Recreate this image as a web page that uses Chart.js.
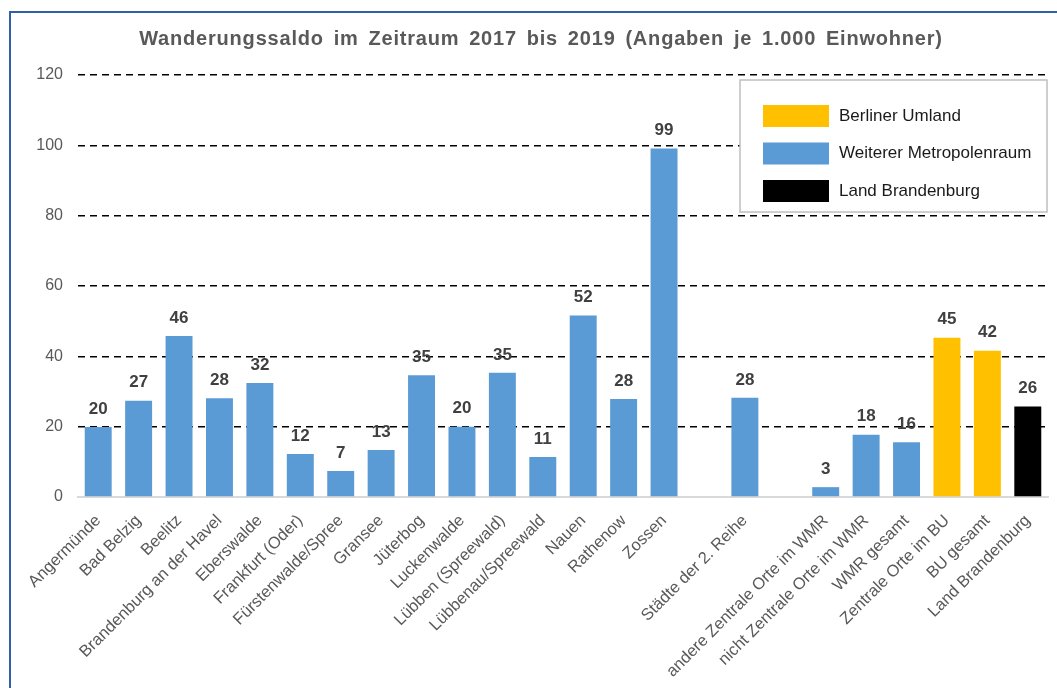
<!DOCTYPE html>
<html>
<head>
<meta charset="utf-8">
<script src="https://cdn.jsdelivr.net/npm/chart.js@4/dist/chart.umd.min.js"></script>
<style>
  html, body { margin: 0; padding: 0; background: #fff; }
  #wrap { position: relative; width: 1057px; height: 688px; }
</style>
</head>
<body>
<div id="wrap"><canvas id="c" width="1057" height="688"></canvas></div>
<script>
const titleText = 'Wanderungssaldo im Zeitraum 2017 bis 2019 (Angaben je 1.000 Einwohner)';
const categories = ['Angermünde', 'Bad Belzig', 'Beelitz', 'Brandenburg an der Havel', 'Eberswalde',
  'Frankfurt (Oder)', 'Fürstenwalde/Spree', 'Gransee', 'Jüterbog', 'Luckenwalde',
  'Lübben (Spreewald)', 'Lübbenau/Spreewald', 'Nauen', 'Rathenow', 'Zossen', '',
  'Städte der 2. Reihe', '', 'andere Zentrale Orte im WMR', 'nicht Zentrale Orte im WMR',
  'WMR gesamt', 'Zentrale Orte im BU', 'BU gesamt', 'Land Brandenburg'];
const values = [19.9, 27.4, 45.8, 28.1, 32.4, 12.2, 7.4, 13.4, 34.6, 20.0, 35.3, 11.4, 51.6, 27.9, 99.1, null,
  28.2, null, 2.8, 17.7, 15.6, 45.3, 41.6, 25.7];
const groups = ['WMR','WMR','WMR','WMR','WMR','WMR','WMR','WMR','WMR','WMR','WMR','WMR','WMR','WMR','WMR', null,
  'WMR', null, 'WMR','WMR','WMR','BU','BU','LAND'];
const legendLabels = ['Berliner Umland', 'Weiterer Metropolenraum', 'Land Brandenburg'];
const legendKeys = ['BU', 'WMR', 'LAND'];
const yTicks = [0, 20, 40, 60, 80, 100, 120];

const groupColors = { BU: '#ffc000', WMR: '#5b9bd5', LAND: '#000000' };

const decorPlugin = {
  id: 'decor',
  beforeDraw(chart) {
    const ctx = chart.ctx;
    ctx.save();
    ctx.fillStyle = '#ffffff';
    ctx.fillRect(0, 0, chart.width, chart.height);
    ctx.strokeStyle = '#2e62a6';
    ctx.lineWidth = 2;
    ctx.strokeRect(10, 12, 1200, 1000);
    ctx.restore();
  },
  afterDraw(chart) {
    const ctx = chart.ctx;
    ctx.save();
    // title
    ctx.fillStyle = '#595959';
    ctx.font = 'bold 20px "Liberation Sans", Arial, sans-serif';
    ctx.textAlign = 'left';
    ctx.textBaseline = 'middle';
    try { ctx.letterSpacing = '0.8px'; ctx.wordSpacing = '3.5px'; } catch (e) {}
    const tw = ctx.measureText(titleText).width;
    ctx.fillText(titleText, 541 - tw / 2, 39);
    try { ctx.letterSpacing = '0px'; ctx.wordSpacing = '0px'; } catch (e) {}
    // data labels
    const meta = chart.getDatasetMeta(0);
    ctx.textAlign = 'center';
    ctx.fillStyle = '#404040';
    ctx.font = 'bold 17px "Liberation Sans", Arial, sans-serif';
    meta.data.forEach((el, i) => {
      const v = values[i];
      if (v === null || v === undefined) return;
      ctx.fillText(String(Math.round(v)), el.x, el.y - 18);
    });
    // legend
    const lx = 740, ly = 80, lw = 307, lh = 132;
    ctx.fillStyle = '#ffffff';
    ctx.fillRect(lx, ly, lw, lh);
    ctx.strokeStyle = '#bfbfbf';
    ctx.lineWidth = 1.5;
    ctx.strokeRect(lx, ly, lw, lh);
    ctx.font = '17px "Liberation Sans", Arial, sans-serif';
    ctx.textAlign = 'left';
    legendLabels.forEach((lab, i) => {
      const yy = 105 + i * 37.5;
      ctx.fillStyle = groupColors[legendKeys[i]];
      ctx.fillRect(763, yy, 66, 22);
      ctx.fillStyle = '#1a1a1a';
      ctx.fillText(lab, 839, yy + 11);
    });
    ctx.restore();
  }
};

new Chart(document.getElementById('c'), {
  type: 'bar',
  data: {
    labels: categories,
    datasets: [{
      data: values,
      backgroundColor: groups.map(g => g ? groupColors[g] : 'rgba(0,0,0,0)'),
      borderWidth: 0,
      barPercentage: 0.667,
      categoryPercentage: 1.0
    }]
  },
  options: {
    responsive: false,
    animation: false,
    devicePixelRatio: 1,
    layout: { padding: { top: 75, left: 0, right: 9, bottom: 0 } },
    plugins: { legend: { display: false }, title: { display: false }, tooltip: { enabled: false } },
    scales: {
      x: {
        grid: { display: false, drawTicks: false },
        border: { display: true, color: '#d9d9d9', width: 2 },
        ticks: {
          autoSkip: false,
          maxRotation: 45,
          minRotation: 45,
          padding: 14,
          color: '#595959',
          font: { family: '"Liberation Sans", Arial, sans-serif', size: 16.5 }
        },
        afterFit(scale) { scale.height = 191; }
      },
      y: {
        min: 0,
        max: 120,
        afterBuildTicks(scale) { scale.ticks = yTicks.map(v => ({ value: v })); },
        grid: {
          drawTicks: false,
          lineWidth: 1.6,
          color: ctx => (ctx.tick && ctx.tick.value === 0) ? 'rgba(0,0,0,0)' : '#000000'
        },
        border: { display: false, dash: [7, 5] },
        ticks: {
          padding: 15,
          color: '#595959',
          font: { family: '"Liberation Sans", Arial, sans-serif', size: 16 }
        },
        afterFit(scale) { scale.width = 78; }
      }
    }
  },
  plugins: [decorPlugin]
});
</script>
</body>
</html>
